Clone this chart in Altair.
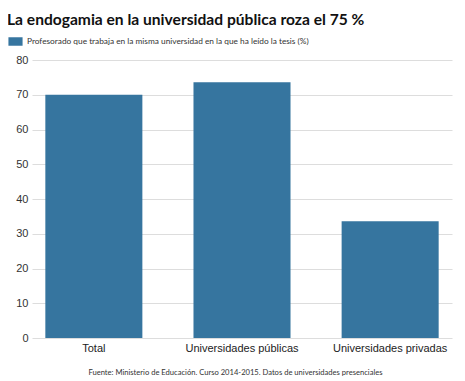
import altair as alt
import pandas as pd

categories = ["Total", "Universidades públicas", "Universidades privadas"]
values = [70.0, 73.6, 33.6]
series_name = "Profesorado que trabaja en la misma universidad en la que ha leído la tesis (%)"
y_ticks = [0, 10, 20, 30, 40, 50, 60, 70, 80]

df = pd.DataFrame({"cat": categories, "val": values, "serie": [series_name] * len(categories)})

chart = alt.Chart(df).mark_bar(color="#36759f").encode(
    x=alt.X("cat:N", sort=categories,
            scale=alt.Scale(paddingInner=0.345, paddingOuter=0.09),
            axis=alt.Axis(title="Fuente: Ministerio de Educación. Curso 2014-2015. Datos de universidades presenciales",
                          titleFont="Lato", titleFontSize=7.6, titleFontWeight="normal",
                          titleColor="#333333", titleX=203, titleY=30,
                          labelAngle=0, labelFont="Liberation Sans", labelFontSize=11,
                          labelColor="#222222", labelPadding=4, ticks=False,
                          domain=False)),
    y=alt.Y("val:Q", scale=alt.Scale(domain=[0, 80]),
            axis=alt.Axis(title=None, values=y_ticks, labelFont="Liberation Sans",
                          labelFontSize=11, labelColor="#333333", ticks=False,
                          labelPadding=4, domain=False, gridColor="#dddddd")),
    color=alt.Color("serie:N", scale=alt.Scale(range=["#36759f"]),
                    legend=alt.Legend(title=None, orient="none", legendX=-24, legendY=-26,
                                      symbolType="M-1,-0.6H1V0.6H-1Z", symbolSize=200,
                                      symbolStrokeWidth=0, labelFont="Lato",
                                      labelFontSize=8.3, labelColor="#333333",
                                      labelLimit=400, symbolOffset=0)),
).properties(
    width=420, height=278,
    title=alt.TitleParams("La endogamia en la universidad pública roza el 75 %",
                          anchor="start", frame="group", dx=-25, offset=5,
                          font="Lato", fontSize=15.6, fontWeight="bold", color="#111111"),
    autosize=alt.AutoSizeParams(type="none"),
    padding={"left": 24, "top": 52, "right": 5, "bottom": 45},
).configure_view(stroke=None)

chart.save("out.html", embed_options={"renderer": "svg", "actions": False})
